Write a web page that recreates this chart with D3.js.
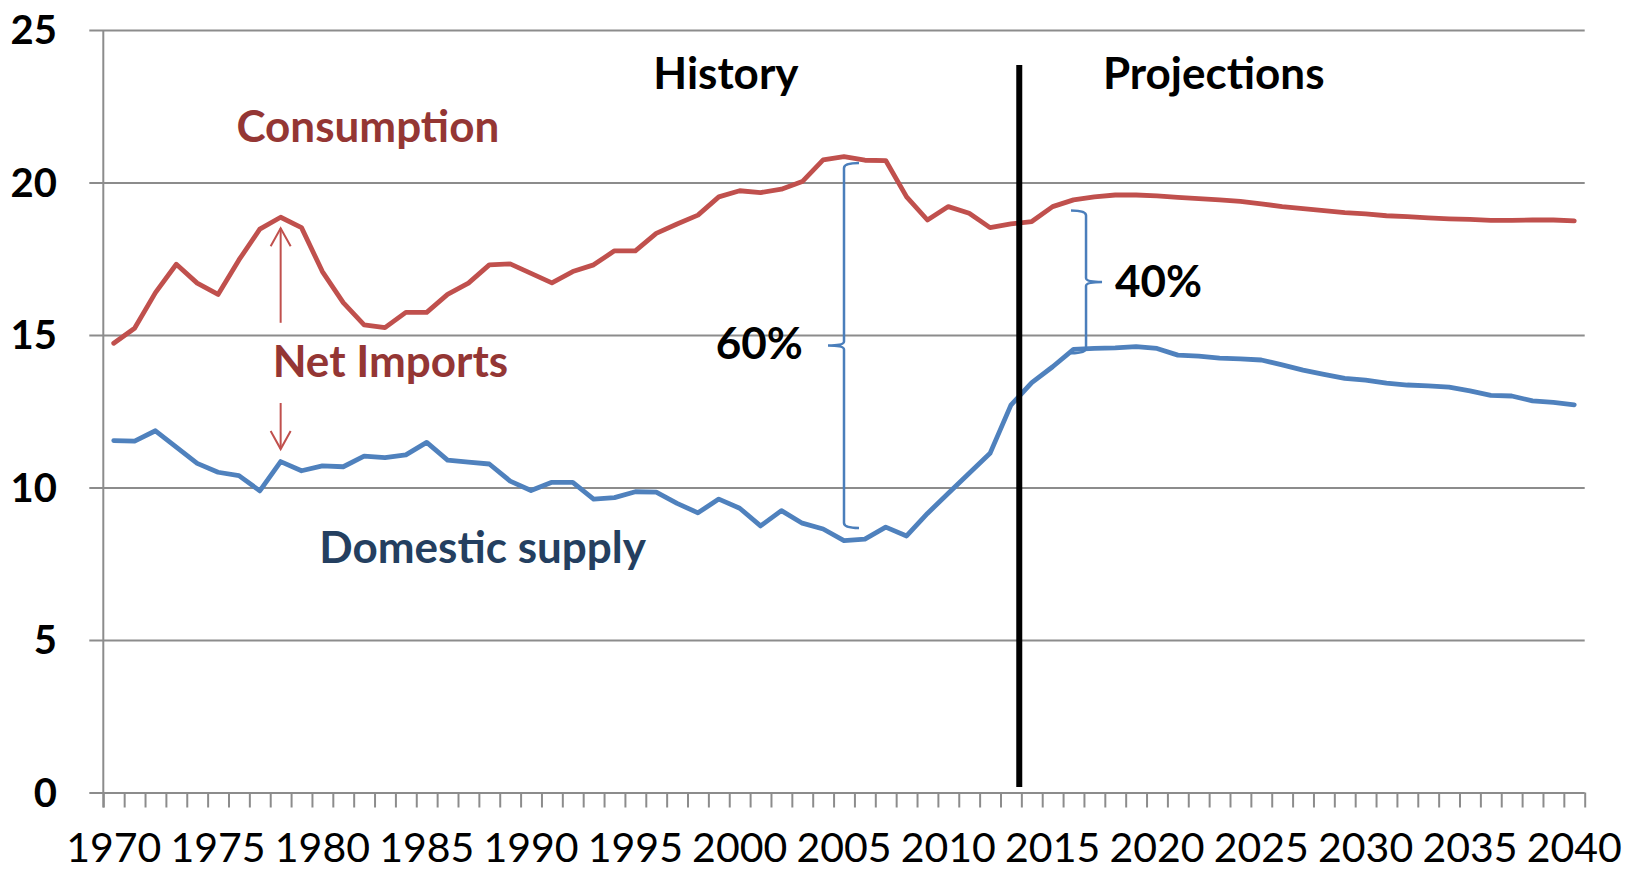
<!DOCTYPE html>
<html>
<head>
<meta charset="utf-8">
<script src="https://cdnjs.cloudflare.com/ajax/libs/d3/7.8.5/d3.min.js"></script>
<style>
body{margin:0;background:#fff;}
svg{display:block;}
text{font-family:Lato,'Open Sans',sans-serif;}
</style>
</head>
<body>
<svg width="1627" height="871"></svg>
<script>
// categories
var years = d3.range(1970, 2041);
var xLabels = [1970,1975,1980,1985,1990,1995,2000,2005,2010,2015,2020,2025,2030,2035,2040];
var yTicks = [0,5,10,15,20,25];

// million barrels per day
var consumption = [14.73,15.22,16.39,17.32,16.70,16.33,17.46,18.47,18.86,18.52,
  17.08,16.06,15.33,15.24,15.74,15.74,16.33,16.70,17.30,17.33,
  17.02,16.71,17.08,17.30,17.76,17.76,18.33,18.64,18.93,19.53,
  19.73,19.67,19.78,20.03,20.74,20.85,20.73,20.72,19.53,18.77,
  19.21,18.99,18.52,18.64,18.72,19.21,19.43,19.53,19.59,19.59,
  19.56,19.51,19.47,19.43,19.38,19.30,19.21,19.14,19.08,19.01,
  18.97,18.91,18.88,18.84,18.81,18.79,18.76,18.76,18.77,18.77,18.74];
var domestic = [11.54,11.52,11.86,11.32,10.79,10.50,10.39,9.89,10.85,10.55,
  10.71,10.68,11.03,10.98,11.07,11.48,10.90,10.83,10.77,10.21,
  9.90,10.17,10.17,9.62,9.67,9.86,9.85,9.48,9.17,9.62,
  9.32,8.74,9.24,8.83,8.64,8.26,8.31,8.70,8.41,9.15,
  9.81,10.47,11.12,12.70,13.44,13.96,14.53,14.56,14.58,14.62,
  14.56,14.34,14.31,14.24,14.22,14.18,14.02,13.85,13.71,13.58,
  13.52,13.42,13.36,13.33,13.29,13.17,13.02,13.00,12.84,12.79,12.71];

// annotations (in chart units)
var dividerYear = 2013.4;
var brace60 = {year:2005, top:20.64, bottom:8.67};
var brace40 = {year:2016.6, top:19.08, bottom:14.40};
var arrowUp = {year:1978, from:15.40, to:18.50};
var arrowDown = {year:1978, from:12.77, to:11.26};

var svgctrl = d3.select('svg');

var pL = 103.3, pR = 1584.7, pT = 30, pB = 792.5;
var xb = d3.scaleBand().domain(years).range([pL,pR]).padding(0);
var xl = d3.scaleLinear().domain([1969.5,2040.5]).range([pL,pR]);
var y = d3.scaleLinear().domain([0,25]).range([pB,pT]);
var cx = function(yr){ return xb(yr) + xb.bandwidth()/2; };

var grey = '#8c8c8c';

// gridlines (start a bit left of the axis, like tick marks)
svgctrl.append('g').attr('transform','translate('+pR+',0)')
  .call(d3.axisLeft(y).tickValues(yTicks).tickSize(pR-pL+14).tickFormat(''))
  .call(function(g){ g.select('.domain').remove(); g.selectAll('line').attr('stroke',grey).attr('stroke-width',2); });

// y axis line
svgctrl.append('line').attr('x1',pL).attr('x2',pL).attr('y1',pT).attr('y2',pB+15)
  .attr('stroke',grey).attr('stroke-width',2);

// y labels
svgctrl.append('g').selectAll('text').data(yTicks).join('text')
  .attr('x',57).attr('y',function(d){ return y(d)+14; })
  .attr('text-anchor','end').attr('font-size',40).attr('font-weight','bold').attr('fill','#000')
  .text(function(d){ return d; });

// x tick marks between categories
var bounds = years.map(function(d){ return d-0.5; }).concat([2040.5]);
svgctrl.append('g').attr('transform','translate(0,'+pB+')')
  .call(d3.axisBottom(xl).tickValues(bounds).tickSize(15).tickFormat(''))
  .call(function(g){ g.select('.domain').remove(); g.selectAll('line').attr('stroke',grey).attr('stroke-width',2); });

// x labels
svgctrl.append('g').attr('transform','translate(0,'+pB+')')
  .call(d3.axisBottom(xb).tickValues(xLabels).tickSize(0).tickPadding(0))
  .call(function(g){
    g.select('.domain').remove();
    g.selectAll('text').attr('y',69).attr('dy',0).attr('font-size',41)
      .attr('font-family','Lato, sans-serif').attr('fill','#000');
  });

// lines
var line = d3.line().x(function(d,i){ return cx(years[i]); }).y(function(d){ return y(d); });
svgctrl.append('path').datum(consumption).attr('d',line).attr('fill','none')
  .attr('stroke','#c0504d').attr('stroke-width',4.8).attr('stroke-linejoin','round').attr('stroke-linecap','round');
svgctrl.append('path').datum(domestic).attr('d',line).attr('fill','none')
  .attr('stroke','#4f81bd').attr('stroke-width',4.8).attr('stroke-linejoin','round').attr('stroke-linecap','round');

// divider history / projections
svgctrl.append('line').attr('x1',xl(dividerYear)).attr('x2',xl(dividerYear))
  .attr('y1',65).attr('y2',787).attr('stroke','#000').attr('stroke-width',6);

// braces
function brace(b, dir){
  var x = xl(b.year), t = y(b.top), bt = y(b.bottom), m = (t+bt)/2;
  var h = 15*dir, p = -16*dir;
  var p2 = d3.path();
  p2.moveTo(x+h,t); p2.quadraticCurveTo(x,t,x,t+5);
  p2.lineTo(x,m-4); p2.quadraticCurveTo(x,m,x+p,m);
  p2.quadraticCurveTo(x,m,x,m+4);
  p2.lineTo(x,bt-5); p2.quadraticCurveTo(x,bt,x+h,bt);
  svgctrl.append('path').attr('d',p2.toString()).attr('fill','none')
    .attr('stroke','#4a7ebb').attr('stroke-width',2.5);
}
brace(brace60, 1);
brace(brace40, -1);

// arrows
function arrow(a){
  var x = xl(a.year), y0 = y(a.from), y1 = y(a.to), s = y1 < y0 ? 1 : -1;
  svgctrl.append('line').attr('x1',x).attr('x2',x).attr('y1',y0).attr('y2',y1)
    .attr('stroke','#c0504d').attr('stroke-width',2);
  svgctrl.append('path').attr('d','M'+(x-10)+','+(y1+18*s)+'L'+x+','+y1+'L'+(x+10)+','+(y1+18*s))
    .attr('fill','none').attr('stroke','#c0504d').attr('stroke-width',2);
}
arrow(arrowUp);
arrow(arrowDown);

// labels
function label(txt, yr, v, col){
  svgctrl.append('text').attr('x',xl(yr)).attr('y',y(v)).attr('text-anchor','middle')
    .attr('font-size',44).attr('font-weight','bold').attr('fill',col).text(txt);
}
label('Consumption', 1982.18, 21.33, '#943634');
label('Net Imports', 1983.26, 13.62, '#943634');
label('Domestic supply', 1987.68, 7.53, '#243f60');
label('History', 1999.34, 23.07, '#000');
label('Projections', 2022.72, 23.07, '#000');
label('60%', 2000.94, 14.21, '#000');
label('40%', 2020.08, 16.25, '#000');
</script>
</body>
</html>
